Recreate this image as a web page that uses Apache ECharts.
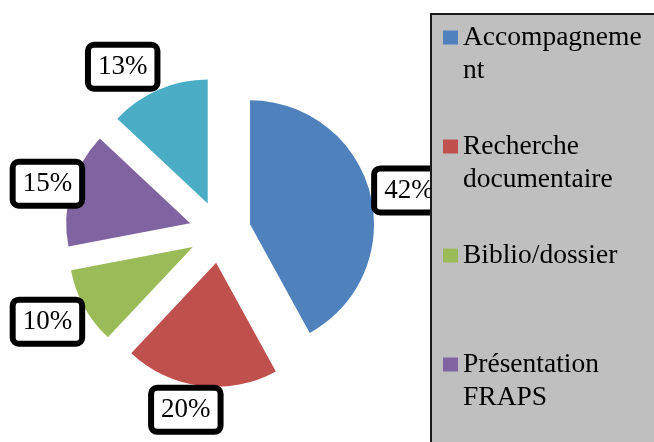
<!DOCTYPE html>
<html>
<head>
<meta charset="utf-8">
<script src="https://cdn.jsdelivr.net/npm/echarts@6/dist/echarts.min.js"></script>
<style>
  html, body { margin: 0; padding: 0; background: #fff; }
  #chart { width: 654px; height: 442px; }
</style>
</head>
<body>
<div id="chart"></div>
<script>
  // données
  var categories = ['Accompagnement', 'Recherche documentaire', 'Biblio/dossier', 'Présentation FRAPS', 'Autre'];
  var values = [42, 20, 10, 15, 13];
  // texte de la légende tel qu'il est coupé dans l'image
  var legendText = ['Accompagneme\nnt', 'Recherche\ndocumentaire', 'Biblio/dossier\n ', 'Présentation\nFRAPS', 'Autre\n '];
  var colors = ['#4F81BD', '#C0504D', '#9BBB59', '#8064A2', '#4BACC6'];
  // petits décalages des étiquettes (position type Excel)
  var labelDx = [2, 22, 0, 13, 1];
  var labelDy = [-3, 24, 15, -5, -23];

  var myChart = echarts.init(document.getElementById('chart'));

  var option = {
    animation: false,
    color: colors,
    // cadre gris de la légende
    graphic: [
      {
        type: 'rect',
        left: 430,
        top: 13,
        z: 3,
        shape: { width: 260, height: 470 },
        style: { fill: '#bfbfbf', stroke: '#1a1a1a', lineWidth: 2 }
      }
    ],
    legend: {
      orient: 'vertical',
      left: 431,
      top: -12,
      height: 700,
      padding: [0, 30, 0, 12],
      itemWidth: 15,
      itemHeight: 14,
      itemGap: 10,
      icon: 'rect',
      selectedMode: false,
      formatter: function (name) {
        return '\n' + legendText[categories.indexOf(name)];
      },
      textStyle: {
        fontFamily: 'Liberation Serif',
        fontSize: 27.5,
        lineHeight: 33,
        color: '#000'
      },
      data: categories
    },
    series: [
      {
        type: 'pie',
        center: [220, 232],
        radius: 124,
        startAngle: 90,
        clockwise: true,
        selectedMode: 'multiple',
        selectedOffset: 31,
        avoidLabelOverlap: false,
        emphasis: { disabled: true },
        select: { itemStyle: { borderWidth: 0 } },
        label: {
          show: true,
          position: 'outside',
          formatter: '{c}%',
          fontFamily: 'Liberation Serif',
          fontSize: 27,
          lineHeight: 30,
          color: '#000',
          backgroundColor: '#fff',
          borderColor: '#000',
          borderWidth: 6,
          borderRadius: 3,
          padding: [4, 7],
          distanceToLabelLine: 5
        },
        labelLine: { show: false, length: 0, length2: 0 },
        labelLayout: function (p) {
          return { dx: labelDx[p.dataIndex], dy: labelDy[p.dataIndex] };
        },
        data: categories.map(function (n, i) {
          return { name: n, value: values[i], selected: true };
        })
      }
    ]
  };

  myChart.setOption(option);
</script>
</body>
</html>
